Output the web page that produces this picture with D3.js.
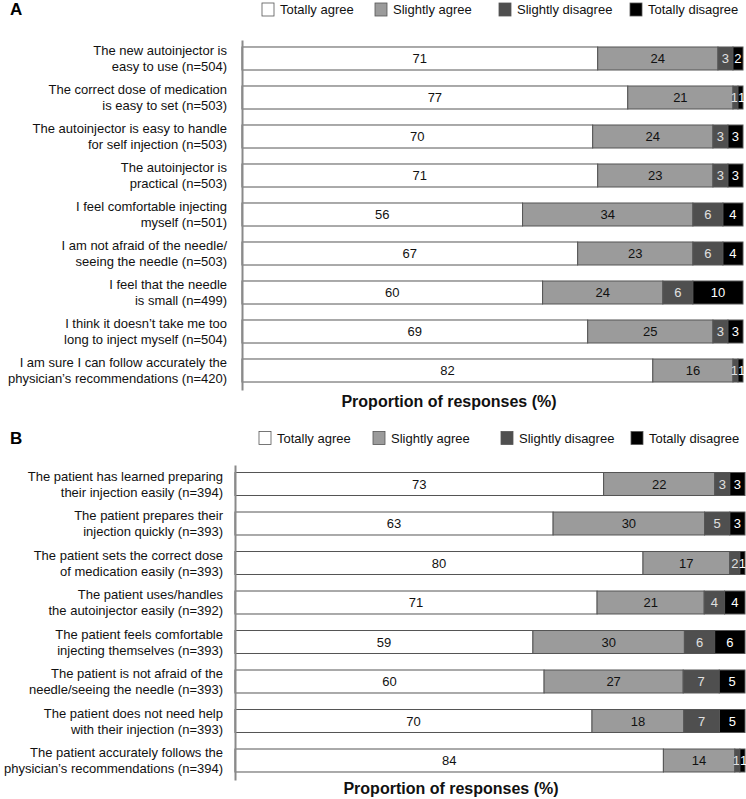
<!DOCTYPE html>
<html><head><meta charset="utf-8">
<script src="https://cdn.jsdelivr.net/npm/d3@7"></script>
<style>body{margin:0;background:#fff}svg{display:block;font-family:"Liberation Sans",Arial,sans-serif}</style>
</head><body>
<svg id="c" width="746" height="799"></svg>
<script>
const seriesKeys = ["Totally agree","Slightly agree","Slightly disagree","Totally disagree"];
const seriesColors = ["#ffffff","#9b9b9b","#4f4f4f","#000000"];
const textColors = ["#111","#111","#e0e0e0","#fff"];

const labelsA = [
  ["The new autoinjector is","easy to use (n=504)"],
  ["The correct dose of medication","is easy to set (n=503)"],
  ["The autoinjector is easy to handle","for self injection (n=503)"],
  ["The autoinjector is","practical (n=503)"],
  ["I feel comfortable injecting","myself (n=501)"],
  ["I am not afraid of the needle/","seeing the needle (n=503)"],
  ["I feel that the needle","is small (n=499)"],
  ["I think it doesn\u2019t take me too","long to inject myself (n=504)"],
  ["I am sure I can follow accurately the","physician\u2019s recommendations (n=420)"]
];
const A_totallyAgree    = [71,77,70,71,56,67,60,69,82];
const A_slightlyAgree   = [24,21,24,23,34,23,24,25,16];
const A_slightlyDisagree= [3,1,3,3,6,6,6,3,1];
const A_totallyDisagree = [2,1,3,3,4,4,10,3,1];

const labelsB = [
  ["The patient has learned preparing","their injection easily (n=394)"],
  ["The patient prepares their","injection quickly (n=393)"],
  ["The patient sets the correct dose","of medication easily (n=393)"],
  ["The patient uses/handles","the autoinjector easily (n=392)"],
  ["The patient feels comfortable","injecting themselves (n=393)"],
  ["The patient is not afraid of the","needle/seeing the needle (n=393)"],
  ["The patient does not need help","with their injection (n=393)"],
  ["The patient accurately follows the","physician\u2019s recommendations (n=394)"]
];
const B_totallyAgree    = [73,63,80,71,59,60,70,84];
const B_slightlyAgree   = [22,30,17,21,30,27,18,14];
const B_slightlyDisagree= [3,5,2,4,6,7,7,1];
const B_totallyDisagree = [3,3,1,4,6,5,5,1];

const axisTitle = "Proportion of responses (%)";

const svg = d3.select("#c");

function panel(cfg){
  const g = svg.append("g");
  const n = cfg.labels.length;
  const rows = cfg.labels.map((l,i)=>({i, "Totally agree":cfg.vals[0][i], "Slightly agree":cfg.vals[1][i], "Slightly disagree":cfg.vals[2][i], "Totally disagree":cfg.vals[3][i]}));
  const stacked = d3.stack().keys(seriesKeys).offset(d3.stackOffsetExpand)(rows);
  const x = d3.scaleLinear().domain([0,1]).range([cfg.x0, cfg.x1]);
  const y = d3.scaleBand().domain(d3.range(n)).range([cfg.y0, cfg.y1]).paddingInner(cfg.pad).paddingOuter(cfg.pad/2);

  // panel letter
  g.append("text").attr("x",10).attr("y",cfg.legendY).attr("dy","0.35em")
    .attr("font-size",17).attr("font-weight","bold").text(cfg.letter);

  // legend
  seriesKeys.forEach((k,j)=>{
    g.append("rect").attr("x",cfg.legBox[j]).attr("y",cfg.legendY-6.5).attr("width",12).attr("height",13)
      .attr("fill",seriesColors[j]).attr("stroke","#555").attr("stroke-width",0.8);
    g.append("text").attr("x",cfg.legBox[j]+18).attr("y",cfg.legendY).attr("dy","0.35em")
      .attr("font-size",13).attr("fill","#111").text(k);
  });

  const narrow = d => x(d[1]) - x(d[0]) < 8;

  // bars
  stacked.forEach((s,j)=>{
    const sg = g.append("g");
    sg.selectAll("rect").data(s).join("rect")
      .attr("x",d=>x(d[0])).attr("width",d=>x(d[1])-x(d[0]))
      .attr("y",d=>y(d.data.i)).attr("height",y.bandwidth())
      .attr("fill",seriesColors[j]).attr("stroke","#555").attr("stroke-width",1);
    sg.selectAll("text").data(s).join("text")
      .each(function(d,i){
        let xx = (x(d[0])+x(d[1]))/2, anchor = "middle";
        if (j===2 && narrow(d) && narrow(stacked[3][i])) { xx = x(d[1]); anchor = "end"; }
        if (j===3 && narrow(d) && narrow(stacked[2][i])) { xx = x(d[0]); anchor = "start"; }
        d3.select(this).attr("x",xx).attr("text-anchor",anchor);
      })
      .attr("y",d=>y(d.data.i)+y.bandwidth()/2)
      .attr("dy","0.36em").attr("font-size",13)
      .attr("fill",textColors[j]).text(d=>d.data[seriesKeys[j]]);
  });

  // category labels
  cfg.labels.forEach((lines,i)=>{
    const cy = y(i)+y.bandwidth()/2;
    const t = g.append("text").attr("text-anchor","end").attr("font-size",13).attr("fill","#111");
    lines.forEach((ln,k)=>{
      t.append("tspan").attr("x",cfg.labelX).attr("y",cy + (k-0.5)*16).attr("dy","0.35em").text(ln);
    });
  });

  // axis line
  const ax = d3.axisLeft(d3.scaleLinear().domain([0,1]).range([cfg.axTop,cfg.axBot])).ticks(0).tickSize(0).tickSizeOuter(0);
  const axg = g.append("g").attr("transform",`translate(${cfg.x0},0)`).call(ax);
  axg.selectAll("text").remove();
  axg.select(".domain").attr("stroke","#8a8a8a").attr("stroke-width",2);

  // axis title
  g.append("text").attr("x",cfg.titleX).attr("y",cfg.titleY).attr("dy","0.35em").attr("text-anchor","middle")
    .attr("font-size",16).attr("font-weight","bold").attr("fill","#111").text(axisTitle);
}

panel({letter:"A", labels:labelsA, vals:[A_totallyAgree,A_slightlyAgree,A_slightlyDisagree,A_totallyDisagree],
  x0:242, x1:743, y0:39, y1:390, pad:0.41, labelX:227, axTop:40, axBot:390,
  legendY:9.5, legBox:[262,375,499,630], titleX:449, titleY:401});

panel({letter:"B", labels:labelsB, vals:[B_totallyAgree,B_slightlyAgree,B_slightlyDisagree,B_totallyDisagree],
  x0:235, x1:745, y0:464.25, y1:780.25, pad:0.418, labelX:223, axTop:465, axBot:780,
  legendY:438, legBox:[259,373,501,631], titleX:451, titleY:788});
</script>
</body></html>
